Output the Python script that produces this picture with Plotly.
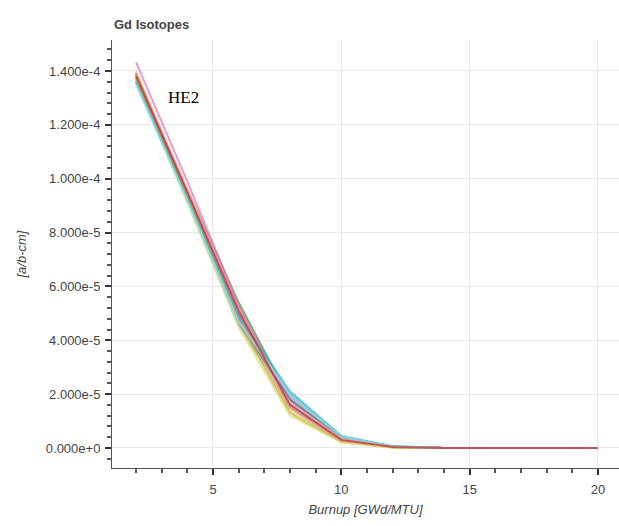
import plotly.graph_objects as go

# Burnup steps [GWd/MTU]
burnup = [2, 4, 6, 8, 10, 12, 14, 16, 18, 20]

# Gd number densities per case, in units of 1e-5 atoms/b-cm
case_01 = [13.7, 9.3, 4.7, 2.0, 0.42, 0.06, 0.0, 0.0, 0.0, 0.0]
case_02 = [13.6, 9.2, 4.6, 1.9, 0.38, 0.05, 0.0, 0.0, 0.0, 0.0]
case_03 = [13.8, 9.5, 5.0, 1.7, 0.32, 0.04, 0.0, 0.0, 0.0, 0.0]
case_04 = [13.9, 9.4, 4.8, 1.4, 0.25, 0.03, 0.0, 0.0, 0.0, 0.0]
case_05 = [13.8, 9.6, 5.4, 1.8, 0.35, 0.05, 0.0, 0.0, 0.0, 0.0]
case_06 = [13.7, 9.5, 5.2, 1.5, 0.28, 0.03, 0.0, 0.0, 0.0, 0.0]
case_07 = [13.9, 9.6, 5.2, 1.7, 0.33, 0.04, 0.0, 0.0, 0.0, 0.0]
case_08 = [13.6, 9.3, 4.8, 1.8, 0.36, 0.05, 0.0, 0.0, 0.0, 0.0]
case_09 = [13.7, 9.4, 4.9, 1.9, 0.40, 0.06, 0.0, 0.0, 0.0, 0.0]
case_10 = [13.9, 9.5, 5.0, 1.6, 0.31, 0.04, 0.0, 0.0, 0.0, 0.0]
case_11 = [13.8, 9.4, 4.9, 1.5, 0.27, 0.03, 0.0, 0.0, 0.0, 0.0]
case_12 = [14.33, 9.9, 5.3, 1.7, 0.33, 0.04, 0.0, 0.0, 0.0, 0.0]
case_13 = [14.0, 9.6, 5.1, 1.6, 0.30, 0.04, 0.0, 0.0, 0.0, 0.0]
case_14 = [13.9, 9.3, 4.6, 1.8, 0.38, 0.05, 0.0, 0.0, 0.0, 0.0]
case_15 = [13.7, 9.2, 4.5, 1.7, 0.35, 0.05, 0.0, 0.0, 0.0, 0.0]
case_16 = [13.9, 9.4, 4.7, 1.3, 0.22, 0.02, 0.0, 0.0, 0.0, 0.0]
case_17 = [13.6, 9.1, 4.5, 1.2, 0.20, 0.02, 0.0, 0.0, 0.0, 0.0]
case_18 = [13.6, 9.3, 4.9, 2.1, 0.45, 0.07, 0.0, 0.0, 0.0, 0.0]
case_19 = [13.5, 9.2, 4.7, 2.0, 0.43, 0.06, 0.0, 0.0, 0.0, 0.0]
case_20 = [13.8, 9.5, 5.1, 1.6, 0.30, 0.04, 0.0, 0.0, 0.0, 0.0]

cases = [case_01, case_02, case_03, case_04, case_05, case_06, case_07,
         case_08, case_09, case_10, case_11, case_12, case_13, case_14,
         case_15, case_16, case_17, case_18, case_19, case_20]

palette = ['#1f77b4', '#aec7e8', '#ff7f0e', '#ffbb78', '#2ca02c', '#98df8a',
           '#ff9896', '#9467bd', '#c5b0d5', '#8c564b', '#c49c94', '#e377c2',
           '#f7b6d2', '#7f7f7f', '#c7c7c7', '#bcbd22', '#dbdb8d', '#17becf',
           '#9edae5', '#d62728']

# Axis ticks
x_ticks = [5, 10, 15, 20]
y_ticks = [0.0, 2e-5, 4e-5, 6e-5, 8e-5, 1e-4, 1.2e-4, 1.4e-4]

UNIT = 1e-5


def sci_label(v):
    """Format like 1.400e-4 / 0.000e+0 (single-digit exponent, ASCII minus)."""
    mant, exp = f"{v:.3e}".split("e")
    e = int(exp)
    return f"{mant}e{'-' if e < 0 else '+'}{abs(e)}"


fig = go.Figure()
for i, (vals, col) in enumerate(zip(cases, palette)):
    fig.add_trace(go.Scatter(
        x=burnup, y=[v * UNIT for v in vals], mode="lines",
        line=dict(color=col, width=2), opacity=0.75,
        name=f"case {i + 1}", showlegend=False,
    ))

FONT = "Liberation Sans, Arial, sans-serif"
axis_font = dict(family=FONT, size=13, color="#444")
label_font = dict(family=FONT, size=13, color="#444")

fig.update_layout(
    width=619, height=526,
    margin=dict(l=112, r=0, t=40, b=58),
    paper_bgcolor="white", plot_bgcolor="white",
    showlegend=False,
    xaxis=dict(
        range=[1.065, 20.82], tickvals=x_ticks,
        ticktext=[str(t) for t in x_ticks],
        showgrid=True, gridcolor="#e8e8e8", gridwidth=1, zeroline=False,
        showline=True, linecolor="#555", linewidth=1,
        ticks="outside", ticklen=6, tickwidth=1.5, tickcolor="#333",
        tickfont=axis_font, ticklabelstandoff=3,
        minor=dict(dtick=1, tick0=0, ticks="outside", ticklen=4,
                   tickcolor="#555", showgrid=False),
        title=dict(text="<i>Burnup [GWd/MTU]</i>", font=label_font, standoff=9),
    ),
    yaxis=dict(
        range=[-0.743e-5, 15.15e-5], tickvals=y_ticks,
        ticktext=[sci_label(v) for v in y_ticks],
        showgrid=True, gridcolor="#e8e8e8", gridwidth=1, zeroline=False,
        showline=True, linecolor="#555", linewidth=1,
        ticks="outside", ticklen=6, tickwidth=1.5, tickcolor="#333",
        tickfont=axis_font, ticklabelstandoff=2,
        minor=dict(dtick=0.4e-5, tick0=0, ticks="outside", ticklen=4,
                   tickcolor="#555", showgrid=False),
        title=dict(text="<i>[a/b-cm]</i>", font=label_font, standoff=16),
    ),
)

fig.add_annotation(
    text="<b>Gd Isotopes</b>", xref="paper", yref="paper",
    x=0, y=1, xanchor="left", yanchor="bottom", yshift=6,
    showarrow=False, font=dict(family=FONT, size=13, color="#444"),
)

fig.add_annotation(
    text="HE2", xref="x", yref="y", x=3.87, y=13.03e-5,
    xanchor="center", yanchor="middle", showarrow=False,
    font=dict(family="Liberation Serif, Times New Roman, serif", size=17, color="black"),
)

fig.write_html("out.html")
